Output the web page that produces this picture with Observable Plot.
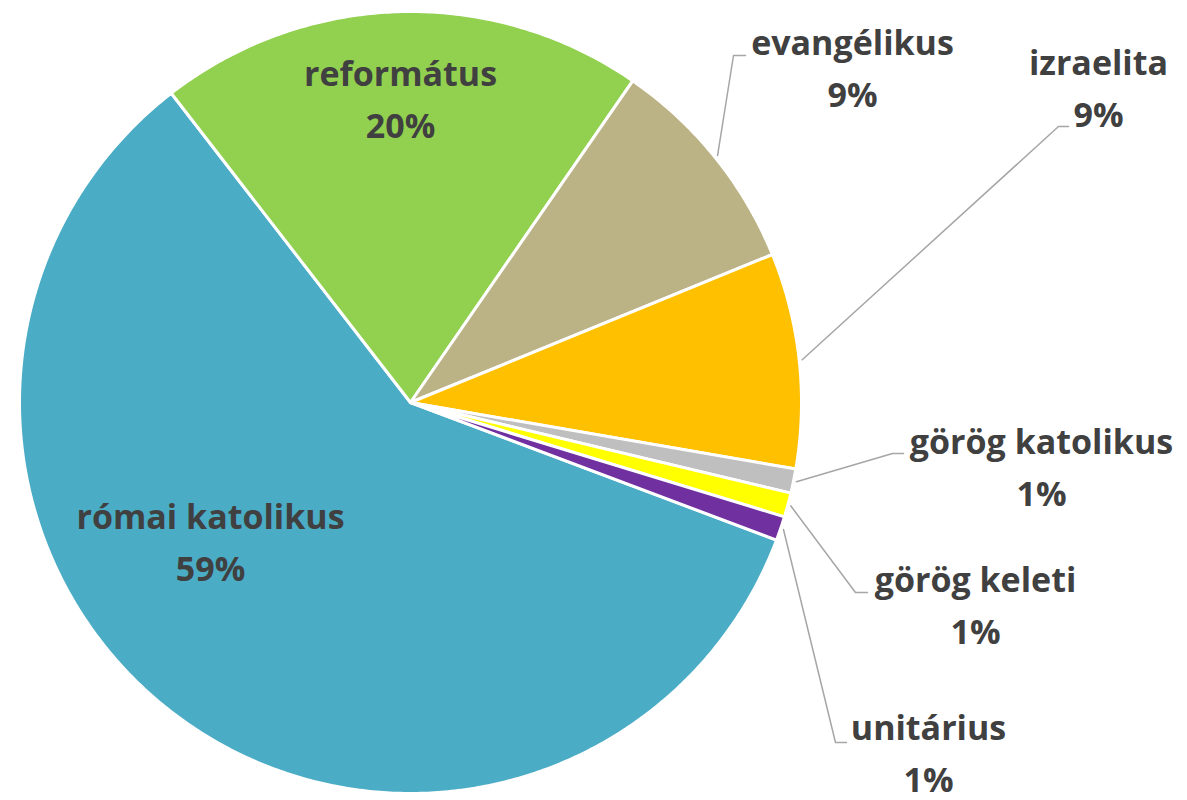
<!DOCTYPE html>
<html><head><meta charset="utf-8">
<script src="https://cdn.jsdelivr.net/npm/d3@7"></script>
<script src="https://cdn.jsdelivr.net/npm/@observablehq/plot@0.6"></script>
<style>html,body{margin:0;padding:0;background:#fff;} svg{display:block}</style>
</head><body><div id="chart"></div>
<script>
// Data
const categories = ["római katolikus","református","evangélikus","izraelita","görög katolikus","görög keleti","unitárius"];
const shares = [58.8, 20.1, 9.2, 8.9, 1.0, 1.0, 1.0];
const colors = ["#4BACC6","#92D050","#BBB386","#FFC000","#BFBFBF","#FFFF00","#7030A0"];

// Layout (pixels)
const W = 1187, H = 800;
const cx = 410, cy = 402, R = 391;
const startDeg = 110.6;
const FS = 34;
const labelLayout = {
  "római katolikus": {x: 210, y: 580},
  "református": {x: 400, y: 137},
  "evangélikus": {x: 852, y: 106, elbow: [733, 55], end: [745, 55]},
  "izraelita": {x: 1098, y: 126, elbow: [1058, 126], end: [1068, 126]},
  "görög katolikus": {x: 1041, y: 505, elbow: [892, 453], end: [903, 453]},
  "görög keleti": {x: 975, y: 643, elbow: [855, 592], end: [867, 592]},
  "unitárius": {x: 928, y: 791, elbow: [835, 742], end: [846, 742]}
};

const total = d3.sum(shares);
let acc = startDeg;
const slices = categories.map((c, i) => {
  const a0 = acc, a1 = acc + shares[i] / total * 360; acc = a1;
  return {name: c, value: shares[i], a0, a1, mid: (a0 + a1) / 2};
});
const pt = (deg, r) => { const t = deg * Math.PI / 180; return [cx + r * Math.sin(t), cy - r * Math.cos(t)]; };

const polyPts = [];
for (const s of slices) {
  polyPts.push({name: s.name, x: cx, y: cy});
  const n = Math.max(2, Math.ceil((s.a1 - s.a0) / 0.5));
  for (let k = 0; k <= n; k++) {
    const [x, y] = pt(s.a0 + (s.a1 - s.a0) * k / n, R);
    polyPts.push({name: s.name, x, y});
  }
  polyPts.push({name: s.name, x: cx, y: cy});
}

const leaderPts = [];
for (const s of slices) {
  const L = labelLayout[s.name];
  if (!L.elbow) continue;
  const [sx, sy] = pt(s.mid, R + 3);
  leaderPts.push({name: s.name, x: sx, y: sy});
  leaderPts.push({name: s.name, x: L.elbow[0], y: L.elbow[1]});
  leaderPts.push({name: s.name, x: L.end[0], y: L.end[1]});
}

const labels = slices.map(s => ({
  x: labelLayout[s.name].x, y: labelLayout[s.name].y,
  text: `${s.name}\n${Math.round(s.value)}%`
}));

const chart = Plot.plot({
  width: W, height: H,
  margin: 0,
  x: {domain: [0, W], range: [0, W], axis: null},
  y: {domain: [0, H], range: [0, H], axis: null},
  color: {domain: categories, range: colors},
  style: {background: "#fff"},
  marks: [
    Plot.line(polyPts, {x: "x", y: "y", z: "name", fill: "name", stroke: "white", strokeWidth: 3, curve: "linear"}),
    Plot.line(leaderPts, {x: "x", y: "y", z: "name", stroke: "#A6A6A6", strokeWidth: 1.5, curve: "linear"}),
    Plot.text(labels, {x: "x", y: "y", text: "text", textAnchor: "middle", lineAnchor: "bottom",
      lineHeight: 52 / FS, fontSize: FS, fontWeight: "bold", fontFamily: "Open Sans", fill: "#404040"})
  ]
});
document.getElementById("chart").appendChild(chart);
</script>
</body></html>
